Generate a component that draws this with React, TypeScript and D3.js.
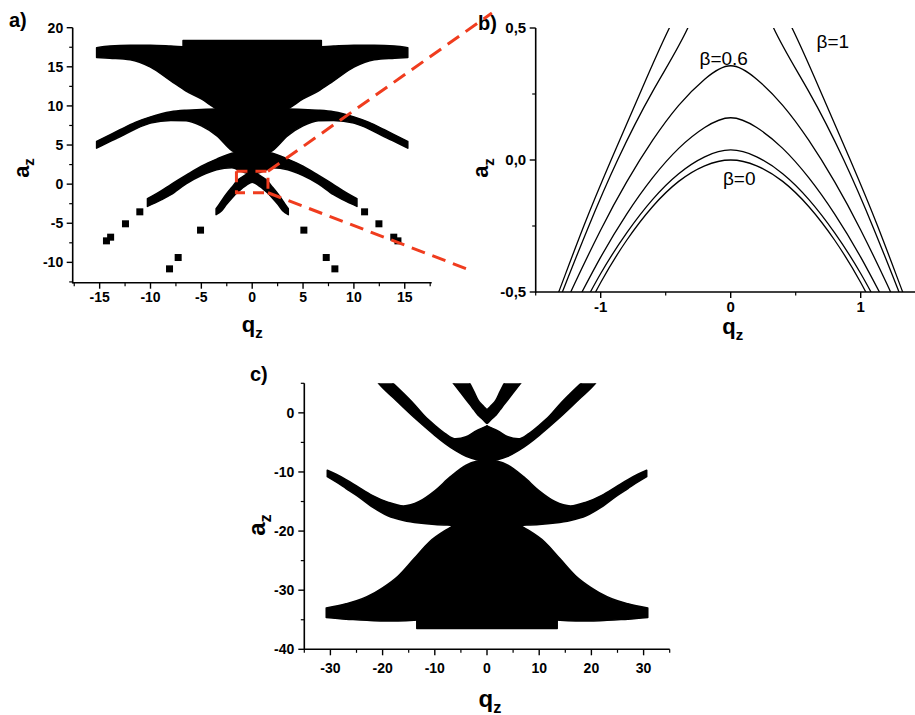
import React from 'react';
import * as d3 from 'd3';

const FONT = "'Liberation Sans', Arial, Helvetica, sans-serif";
const RED = '#f03c1e';

// ================= Panel a data =================
const aXMajor = [-15, -10, -5, 0, 5, 10, 15];
const aXMinor = [-17.5, -12.5, -7.5, -2.5, 2.5, 7.5, 12.5, 17.5];
const aYMajor = [-10, -5, 0, 5, 10, 15, 20];
const aYMinor = [-12.5, -7.5, -2.5, 2.5, 7.5, 12.5, 17.5];

const aBandA_q = [-15.3, -14, -12, -10, -8, -6.5, -5, -3.5, -2, 0, 2, 3.5, 5, 6.5, 8, 10, 12, 14, 15.3];
const aBandA_hi = [17.45, 17.65, 17.75, 17.75, 17.65, 17.55, 17.5, 17.5, 17.5, 17.5, 17.5, 17.5, 17.5, 17.55, 17.65, 17.75, 17.75, 17.65, 17.45];
const aBandA_lo = [16.2, 16.1, 15.9, 14.95, 13.2, 11.9, 10.9, 9.6, 8.8, 8.5, 8.8, 9.6, 10.9, 11.9, 13.2, 14.95, 15.9, 16.1, 16.2];

const aHat_q = [-6.8, 6.8];
const aHat_hi = [18.35, 18.35];
const aHat_lo = [17.3, 17.3];

const aBandB_q = [-15.3, -14, -13, -11.5, -10, -8, -6.5, -5, -3.5, -2, -1, 0, 1, 2, 3.5, 5, 6.5, 8, 10, 11.5, 13, 14, 15.3];
const aBandB_hi = [5.45, 6.3, 6.95, 7.9, 8.6, 9.25, 9.45, 9.55, 9.6, 9.6, 9.6, 9.6, 9.6, 9.6, 9.6, 9.55, 9.45, 9.25, 8.6, 7.9, 6.95, 6.3, 5.45];
const aBandB_lo = [4.6, 5.45, 6.05, 7.05, 7.8, 8.15, 8.1, 7.45, 6.2, 4.3, 3.7, 3.5, 3.7, 4.3, 6.2, 7.45, 8.1, 8.15, 7.8, 7.05, 6.05, 5.45, 4.6];

const aBandC_q = [-10.3, -9, -8, -6.5, -5, -3.5, -2, -1, 0, 1, 2, 3.5, 5, 6.5, 8, 9, 10.3];
const aBandC_hi = [-1.85, -0.9, -0.05, 1.15, 2.3, 3.2, 3.95, 4.15, 4.2, 4.15, 3.95, 3.2, 2.3, 1.15, -0.05, -0.9, -1.85];
const aBandC_lo = [-2.85, -2.05, -1.35, 0.05, 1.1, 1.85, 2.1, 1.6, 1.3, 1.6, 2.1, 1.85, 1.1, 0.05, -1.35, -2.05, -2.85];

const aBandD_q = [-3.55, -3, -2.5, -2, -1.5, -1, -0.5, 0, 0.5, 1, 1.5, 2, 2.5, 3, 3.55];
const aBandD_hi = [-3.15, -2.1, -1.2, -0.4, 0.4, 0.9, 1.3, 1.5, 1.3, 0.9, 0.4, -0.4, -1.2, -2.1, -3.15];
const aBandD_lo = [-3.9, -3.4, -2.55, -1.8, -1.1, -0.55, -0.05, 0.25, -0.05, -0.55, -1.1, -1.8, -2.55, -3.4, -3.9];

const aIsoQ = [-14.33, -13.92, -12.46, -11.05, -8.13, -7.28, -5.08, 5.08, 7.28, 8.13, 11.05, 12.46, 13.92, 14.33];
const aIsoA = [-7.25, -6.78, -5.07, -3.54, -10.83, -9.38, -5.88, -5.88, -9.38, -10.83, -3.54, -5.07, -6.78, -7.25];

// zoom box and connecting lines (panel a data coordinates)
const zoomBoxQ = [-1.55, 1.55];
const zoomBoxA = [-1.1, 1.65];
const zoomLineUpperEnd = [23.57, 21.87];
const zoomLineLowerEnd = [21.7, -11.13];

// ================= Panel b data =================
const bXMajor = [-1, 0, 1];
const bXMinor = [-1.5, -0.5, 0.5, 1.5];
const bYMajor = [-0.5, 0, 0.5];
const bYMinor = [-0.25, 0.25];

const bGridQ = [-1.2, -1.0, -0.8, -0.6, -0.4, -0.2, 0, 0.2, 0.4, 0.6, 0.8, 1.0, 1.2];
const bCurve1 = [-0.656, -0.464, -0.304, -0.176, -0.081, -0.022, 0, -0.022, -0.081, -0.176, -0.304, -0.464, -0.656];
const bCurve2 = [-0.612, -0.43, -0.276, -0.149, -0.052, 0.012, 0.038, 0.012, -0.052, -0.149, -0.276, -0.43, -0.612];
const bCurve3 = [-0.553, -0.368, -0.205, -0.067, 0.044, 0.123, 0.16, 0.123, 0.044, -0.067, -0.205, -0.368, -0.553];
const bCurve4Q = [-1.3, -1.2, -1.0, -0.8, -0.6, -0.4, -0.2, 0, 0.2, 0.4, 0.6, 0.8, 1.0, 1.2, 1.3];
const bCurve4 = [-0.577, -0.468, -0.265, -0.083, 0.075, 0.207, 0.306, 0.357, 0.306, 0.207, 0.075, -0.083, -0.265, -0.468, -0.577];
const bCurve5Q = [-1.4, -1.295, -1.1, -0.87, -0.6, -0.33, -0.15, 0, 0.15, 0.33, 0.6, 0.87, 1.1, 1.295, 1.4];
const bCurve5 = [-0.63, -0.5, -0.26, 0, 0.26, 0.5, 0.7, 0.73, 0.7, 0.5, 0.26, 0, -0.26, -0.5, -0.63];
const bCurve6Q = [-1.42, -1.323, -1.13, -0.92, -0.7, -0.472, -0.2, 0, 0.2, 0.472, 0.7, 0.92, 1.13, 1.323, 1.42];
const bCurve6 = [-0.62, -0.5, -0.25, 0, 0.25, 0.5, 0.73, 0.77, 0.73, 0.5, 0.25, 0, -0.25, -0.5, -0.62];

const bLabels = ['β=1', 'β=0.6', 'β=0'];
const bLabelQ = [0.66, -0.24, -0.06];
const bLabelA = [0.424, 0.36, -0.094];

// ================= Panel c data =================
const cXMajor = [-30, -20, -10, 0, 10, 20, 30];
const cXMinor = [-35, -25, -15, -5, 5, 15, 25, 35];
const cYMajor = [-40, -30, -20, -10, 0];
const cYMinor = [-35, -25, -15, -5, 5];

const cBandQ_q = [-6.8, -5.5, -4.5, -3.3, -2.5, -1.7, -1, -0.5, 0, 0.5, 1, 1.7, 2.5, 3.3, 4.5, 5.5, 6.8];
const cBandQ_hi = [11, 8.7, 7.0, 5.0, 3.6, 2.15, 1.4, 0.95, 0.57, 0.95, 1.4, 2.15, 3.6, 5.0, 7.0, 8.7, 11];
const cBandQ_lo = [5.4, 3.95, 2.8, 1.45, 0.5, -0.4, -0.95, -1.4, -1.8, -1.4, -0.95, -0.4, 0.5, 1.45, 2.8, 3.95, 5.4];

const cBandPL_q = [-20.8, -20, -18, -16, -14, -12, -10, -8, -6, -4, -2, 0];
const cBandPL_hi = [7.2, 6.6, 5.0, 3.3, 1.5, -0.5, -2.1, -3.5, -4.4, -4.05, -3.0, -2.2];
const cBandPL_lo = [5.0, 4.25, 2.6, 0.9, -0.75, -2.3, -3.8, -5.2, -6.4, -7.35, -7.95, -8.3];
const cBandPR_q = [0, 2, 4, 6, 8, 10, 12, 14, 16, 18, 20, 20.8];
const cBandPR_hi = [-2.2, -3.0, -4.05, -4.4, -3.5, -2.1, -0.5, 1.5, 3.3, 5.0, 6.6, 7.2];
const cBandPR_lo = [-8.3, -7.95, -7.35, -6.4, -5.2, -3.8, -2.3, -0.75, 0.9, 2.6, 4.25, 5.0];

const cBandR_q = [-30.6, -29, -27, -25, -22, -19, -16, -13, -10, -7, -4, -2, 0, 2, 4, 7, 10, 13, 16, 19, 22, 25, 27, 29, 30.6];
const cBandR_hi = [-9.7, -10.35, -11.3, -12.35, -13.95, -15.1, -15.75, -15.0, -13.2, -10.8, -8.85, -8.2, -8.0, -8.2, -8.85, -10.8, -13.2, -15.0, -15.75, -15.1, -13.95, -12.35, -11.3, -10.35, -9.7];
const cBandR_lo = [-10.8, -11.65, -12.8, -13.95, -15.9, -17.4, -18.2, -18.65, -18.9, -19.0, -19.05, -19.05, -19.05, -19.05, -19.05, -19.0, -18.9, -18.65, -18.2, -17.4, -15.9, -13.95, -12.8, -11.65, -10.8];

const cBandS_q = [-30.8, -27, -25, -23, -20, -17, -14, -11, -8, -6, -4, 0, 4, 6, 8, 11, 14, 17, 20, 23, 25, 27, 30.8];
const cBandS_hi = [-33.0, -32.3, -31.8, -31.1, -29.6, -27.6, -24.7, -21.8, -19.9, -18.9, -18.3, -17.8, -18.3, -18.9, -19.9, -21.8, -24.7, -27.6, -29.6, -31.1, -31.8, -32.3, -33.0];
const cBandS_lo = [-34.6, -34.9, -35.0, -35.1, -35.2, -35.2, -35.1, -34.7, -34.4, -34.3, -34.3, -34.3, -34.3, -34.3, -34.4, -34.7, -35.1, -35.2, -35.2, -35.1, -35.0, -34.9, -34.6];

const cHat_q = [-13.45, 13.45];
const cHat_hi = [-34.0, -34.0];
const cHat_lo = [-36.5, -36.5];

// ================= helpers =================
type Scale = d3.ScaleLinear<number, number>;

function bandPath(q: number[], hi: number[], lo: number[], x: Scale, y: Scale, curve: any) {
  const rows = q.map((v, i) => ({ q: v, hi: hi[i], lo: lo[i] }));
  return d3
    .area<{ q: number; hi: number; lo: number }>()
    .x((d) => x(d.q))
    .y0((d) => y(d.lo))
    .y1((d) => y(d.hi))
    .curve(curve)(rows) as string;
}

function linePath(q: number[], a: number[], x: Scale, y: Scale) {
  const rows = q.map((v, i) => [v, a[i]] as [number, number]);
  return d3
    .line<[number, number]>()
    .x((d) => x(d[0]))
    .y((d) => y(d[1]))
    .curve(d3.curveNatural)(rows) as string;
}

interface AxesProps {
  x: Scale;
  y: Scale;
  xMajor: number[];
  xMinor: number[];
  yMajor: number[];
  yMinor: number[];
  xFmt: (v: number) => string;
  yFmt: (v: number) => string;
  fs: number;
  xLabelDy: number;
  yLabelDx: number;
  xEnd?: number;
}

function Axes({ x, y, xMajor, xMinor, yMajor, yMinor, xFmt, yFmt, fs, xLabelDy, yLabelDx, xEnd }: AxesProps) {
  const [x0, x1r] = x.range();
  const x1 = xEnd ?? x1r;
  const [yb, yt] = y.range();
  const sw = 1.6;
  return (
    <g fontFamily={FONT} fontWeight="bold" fontSize={fs} fill="#000">
      <line x1={x0} x2={x1} y1={yb} y2={yb} stroke="#000" strokeWidth={sw} />
      <line x1={x0} x2={x0} y1={yb + sw / 2} y2={yt} stroke="#000" strokeWidth={sw} />
      {xMajor.map((v) => (
        <g key={'xm' + v}>
          <line x1={x(v)} x2={x(v)} y1={yb} y2={yb + 6} stroke="#000" strokeWidth={1.4} />
          <text x={x(v)} y={yb + xLabelDy} textAnchor="middle">
            {xFmt(v)}
          </text>
        </g>
      ))}
      {xMinor.map((v) => (
        <line key={'xn' + v} x1={x(v)} x2={x(v)} y1={yb} y2={yb + 3.5} stroke="#000" strokeWidth={1.2} />
      ))}
      {yMajor.map((v) => (
        <g key={'ym' + v}>
          <line x1={x0} x2={x0 - 6} y1={y(v)} y2={y(v)} stroke="#000" strokeWidth={1.4} />
          <text x={x0 - yLabelDx} y={y(v) + fs * 0.36} textAnchor="end">
            {yFmt(v)}
          </text>
        </g>
      ))}
      {yMinor.map((v) => (
        <line key={'yn' + v} x1={x0} x2={x0 - 3.5} y1={y(v)} y2={y(v)} stroke="#000" strokeWidth={1.2} />
      ))}
    </g>
  );
}

function Title({ x, y, base, sub, fs, rotate }: { x: number; y: number; base: string; sub: string; fs: number; rotate?: boolean }) {
  return (
    <text
      transform={rotate ? `translate(${x},${y}) rotate(-90)` : `translate(${x},${y})`}
      textAnchor="middle"
      fontFamily={FONT}
      fontWeight="bold"
      fontSize={fs}
      fill="#000"
    >
      {base}
      <tspan fontSize={fs * 0.68} dy={fs * 0.26}>
        {sub}
      </tspan>
    </text>
  );
}

export default function App() {
  // ---- scales ----
  const ax = d3.scaleLinear().domain([-17.65, 17.65]).range([72.7, 431.7]);
  const ay = d3.scaleLinear().domain([-12.6, 20]).range([282.7, 27.7]);
  const bx = d3.scaleLinear().domain([-1.5, 1.5]).range([535.7, 925.7]);
  const by = d3.scaleLinear().domain([-0.5, 0.5]).range([292, 28]);
  const cx = d3.scaleLinear().domain([-35, 35]).range([304.3, 669.7]);
  const cy = d3.scaleLinear().domain([-40, 5]).range([649.3, 383.3]);

  const smooth = d3.curveMonotoneX;

  const aBands = [
    bandPath(aBandA_q, aBandA_hi, aBandA_lo, ax, ay, smooth),
    bandPath(aHat_q, aHat_hi, aHat_lo, ax, ay, d3.curveLinear),
    bandPath(aBandB_q, aBandB_hi, aBandB_lo, ax, ay, smooth),
    bandPath(aBandC_q, aBandC_hi, aBandC_lo, ax, ay, smooth),
    bandPath(aBandD_q, aBandD_hi, aBandD_lo, ax, ay, smooth),
  ];

  const cBands = [
    bandPath(cBandQ_q, cBandQ_hi, cBandQ_lo, cx, cy, smooth),
    bandPath(cBandPL_q, cBandPL_hi, cBandPL_lo, cx, cy, smooth),
    bandPath(cBandPR_q, cBandPR_hi, cBandPR_lo, cx, cy, smooth),
    bandPath(cBandR_q, cBandR_hi, cBandR_lo, cx, cy, smooth),
    bandPath(cBandS_q, cBandS_hi, cBandS_lo, cx, cy, smooth),
    bandPath(cHat_q, cHat_hi, cHat_lo, cx, cy, d3.curveLinear),
  ];

  const bLines = [
    linePath(bGridQ, bCurve1, bx, by),
    linePath(bGridQ, bCurve2, bx, by),
    linePath(bGridQ, bCurve3, bx, by),
    linePath(bCurve4Q, bCurve4, bx, by),
    linePath(bCurve5Q, bCurve5, bx, by),
    linePath(bCurve6Q, bCurve6, bx, by),
  ];

  const fmtPlain = (v: number) => String(v);
  const fmtComma = (v: number) => v.toFixed(1).replace('.', ',');

  const sq = 7;

  return (
    <svg
      width={915}
      height={715}
      viewBox="0 0 915 715"
      style={{ position: 'absolute', left: 0, top: 0, background: '#fff' }}
    >
      <defs>
        <clipPath id="clipA">
          <rect x={72.7} y={20} width={359} height={262.7} />
        </clipPath>
        <clipPath id="clipB">
          <rect x={536} y={by(0.5)} width={400} height={by(-0.5) - by(0.5)} />
        </clipPath>
        <clipPath id="clipC">
          <rect x={305} y={cy(5)} width={365} height={cy(-40) - cy(5)} />
        </clipPath>
      </defs>
      <rect x={0} y={0} width={915} height={715} fill="#fff" />

      {/* ---------- panel a ---------- */}
      <g clipPath="url(#clipA)">
        {aBands.map((d, i) => (
          <path key={i} d={d} fill="#000" stroke="#000" strokeWidth={1.5} strokeLinejoin="round" />
        ))}
        {aIsoQ.map((q, i) => (
          <rect key={i} x={ax(q) - sq / 2} y={ay(aIsoA[i]) - sq / 2} width={sq} height={sq} fill="#000" />
        ))}
      </g>
      <Axes x={ax} y={ay} xMajor={aXMajor} xMinor={aXMinor} yMajor={aYMajor} yMinor={aYMinor} xFmt={fmtPlain} yFmt={fmtPlain} fs={14} xLabelDy={19.5} yLabelDx={9.5} />
      <Title x={28.5} y={168} base="a" sub="z" fs={22} rotate />
      <Title x={ax(0)} y={332} base="q" sub="z" fs={22} />
      <text x={9} y={27} fontFamily={FONT} fontWeight="bold" fontSize={20}>a)</text>

      {/* ---------- panel b ---------- */}
      <g clipPath="url(#clipB)">
        {bLines.map((d, i) => (
          <path key={i} d={d} fill="none" stroke="#000" strokeWidth={1.3} />
        ))}
      </g>
      <Axes x={bx} y={by} xMajor={bXMajor} xMinor={bXMinor} yMajor={bYMajor} yMinor={bYMinor} xFmt={fmtPlain} yFmt={fmtComma} fs={15} xLabelDy={19.5} yLabelDx={9.5} xEnd={915} />
      {bLabels.map((t, i) => (
        <text key={i} x={bx(bLabelQ[i])} y={by(bLabelA[i])} fontFamily={FONT} fontSize={19} fill="#000">
          {t}
        </text>
      ))}
      <Title x={488} y={168} base="a" sub="z" fs={22} rotate />
      <Title x={bx(0) + 2} y={334} base="q" sub="z" fs={22} />
      <text x={478} y={30} fontFamily={FONT} fontWeight="bold" fontSize={20}>b)</text>

      {/* ---------- panel c ---------- */}
      <g clipPath="url(#clipC)">
        {cBands.map((d, i) => (
          <path key={i} d={d} fill="#000" stroke="#000" strokeWidth={1.5} strokeLinejoin="round" />
        ))}
      </g>
      <Axes x={cx} y={cy} xMajor={cXMajor} xMinor={cXMinor} yMajor={cYMajor} yMinor={cYMinor} xFmt={fmtPlain} yFmt={fmtPlain} fs={14} xLabelDy={23.5} yLabelDx={10} />
      <Title x={265} y={525} base="a" sub="z" fs={24} rotate />
      <Title x={cx(0) + 3} y={707} base="q" sub="z" fs={24} />
      <text x={250} y={381} fontFamily={FONT} fontWeight="bold" fontSize={20}>c)</text>

      {/* ---------- zoom annotation ---------- */}
      <g fill="none" stroke={RED} strokeWidth={3}>
        <rect
          x={ax(zoomBoxQ[0])}
          y={ay(zoomBoxA[1])}
          width={ax(zoomBoxQ[1]) - ax(zoomBoxQ[0])}
          height={ay(zoomBoxA[0]) - ay(zoomBoxA[1])}
          strokeDasharray="11,8"
        />
        <line x1={ax(zoomBoxQ[1])} y1={ay(zoomBoxA[1])} x2={ax(zoomLineUpperEnd[0])} y2={ay(zoomLineUpperEnd[1])} strokeDasharray="14,8" />
        <line x1={ax(zoomBoxQ[1])} y1={ay(zoomBoxA[0])} x2={ax(zoomLineLowerEnd[0])} y2={ay(zoomLineLowerEnd[1])} strokeDasharray="14,8" />
      </g>
    </svg>
  );
}
